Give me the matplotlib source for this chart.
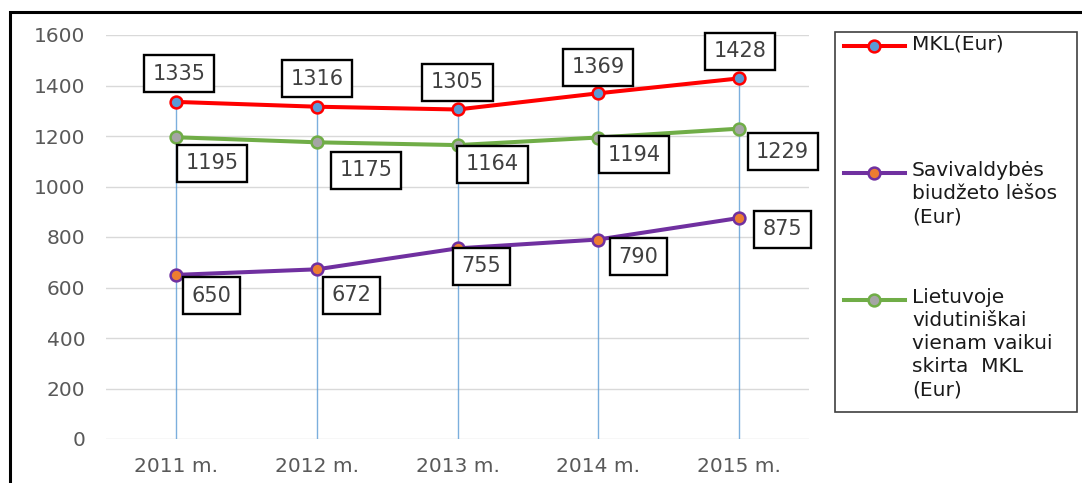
import matplotlib
matplotlib.use('Agg')
import matplotlib.pyplot as plt
from matplotlib.lines import Line2D
from matplotlib.patches import Rectangle

years = ['2011 m.', '2012 m.', '2013 m.', '2014 m.', '2015 m.']
mkl = [1335, 1316, 1305, 1369, 1428]
savivaldybes = [650, 672, 755, 790, 875]
lietuvoje = [1195, 1175, 1164, 1194, 1229]

names = ['MKL(Eur)',
         'Savivaldybės\nbiudžeto lėšos\n(Eur)',
         'Lietuvoje\nvidutiniškai\nvienam vaikui\nskirta  MKL\n(Eur)']
line_colors = ['#FF0000', '#7030A0', '#70AD47']
face_colors = ['#5B9BD5', '#ED7D31', '#A5A5A5']

# label offsets in pixels (dx right, dy down) from the point
off_mkl = [(3, -28), (0, -28), (0, -27), (0, -26), (1, -27)]
off_sav = [(35, 21), (35, 26), (24, 18), (40, 17), (44, 11)]
off_lt = [(36, 26), (49, 28), (35, 19), (36, 17), (44, 23)]

W, H = 1082, 483
fig = plt.figure(figsize=(W / 100, H / 100), dpi=100)
ax = fig.add_axes([106 / W, 1 - 439 / H, (809 - 106) / W, (439 - 35) / H])

x = list(range(len(years)))
ax.set_xlim(-0.5, len(years) - 0.5)
ax.set_ylim(0, 1600)
ax.set_yticks(range(0, 1601, 200))
ax.set_xticks(x)
ax.set_xticklabels(years)
ax.grid(axis='y', color='#D9D9D9', lw=1)
ax.set_axisbelow(True)
for s in ax.spines.values():
    s.set_visible(False)
ax.tick_params(length=0, labelsize=14.5, labelcolor='#595959')
ax.tick_params(axis='x', pad=13)
ax.tick_params(axis='y', pad=15)

# drop lines
ax.vlines(x, 0, mkl, color='#5B9BD5', lw=1, alpha=0.8, zorder=1)

series = [mkl, savivaldybes, lietuvoje]
for vals, lc, fc in zip(series, line_colors, face_colors):
    ax.plot(x, vals, color=lc, lw=2.9, marker='o', ms=8.5, mfc=fc, mec=lc,
            mew=1.8, zorder=3)

def labels(vals, offs):
    for xi, v, (dx, dy) in zip(x, vals, offs):
        ax.annotate(str(v), (xi, v), xytext=(dx * 0.72, -dy * 0.72),
                    textcoords='offset points', ha='center', va='center',
                    fontsize=15, color='#404040', zorder=5,
                    bbox=dict(boxstyle='square,pad=0.41', fc='white',
                              ec='black', lw=1.7))

labels(mkl, off_mkl)
labels(savivaldybes, off_sav)
labels(lietuvoje, off_lt)

def fx(px):
    return px / W

def fy(py):
    return 1 - py / H

# outer frame
fig.add_artist(Rectangle((fx(10), fy(H + 20)), 1.1, fy(12) - fy(H + 20),
                         transform=fig.transFigure, fill=False,
                         ec='black', lw=2.2))

# legend box
fig.add_artist(Rectangle((fx(835), fy(412)), fx(1077) - fx(835),
                         fy(32) - fy(412), transform=fig.transFigure,
                         fill=False, ec='#404040', lw=1.2))
entry_y = [46, 173, 300]
for ey, name, lc, fc in zip(entry_y, names, line_colors, face_colors):
    fig.add_artist(Line2D([fx(844), fx(905)], [fy(ey), fy(ey)],
                          transform=fig.transFigure, color=lc, lw=2.9))
    fig.add_artist(Line2D([fx(874)], [fy(ey)], transform=fig.transFigure,
                          marker='o', ms=8.5, mfc=fc, mec=lc, mew=1.8))
    fig.text(fx(912), fy(ey - 12), name, ha='left', va='top', fontsize=14.5,
             color='#1a1a1a', linespacing=1.27)

fig.savefig('out.png', dpi=100)
